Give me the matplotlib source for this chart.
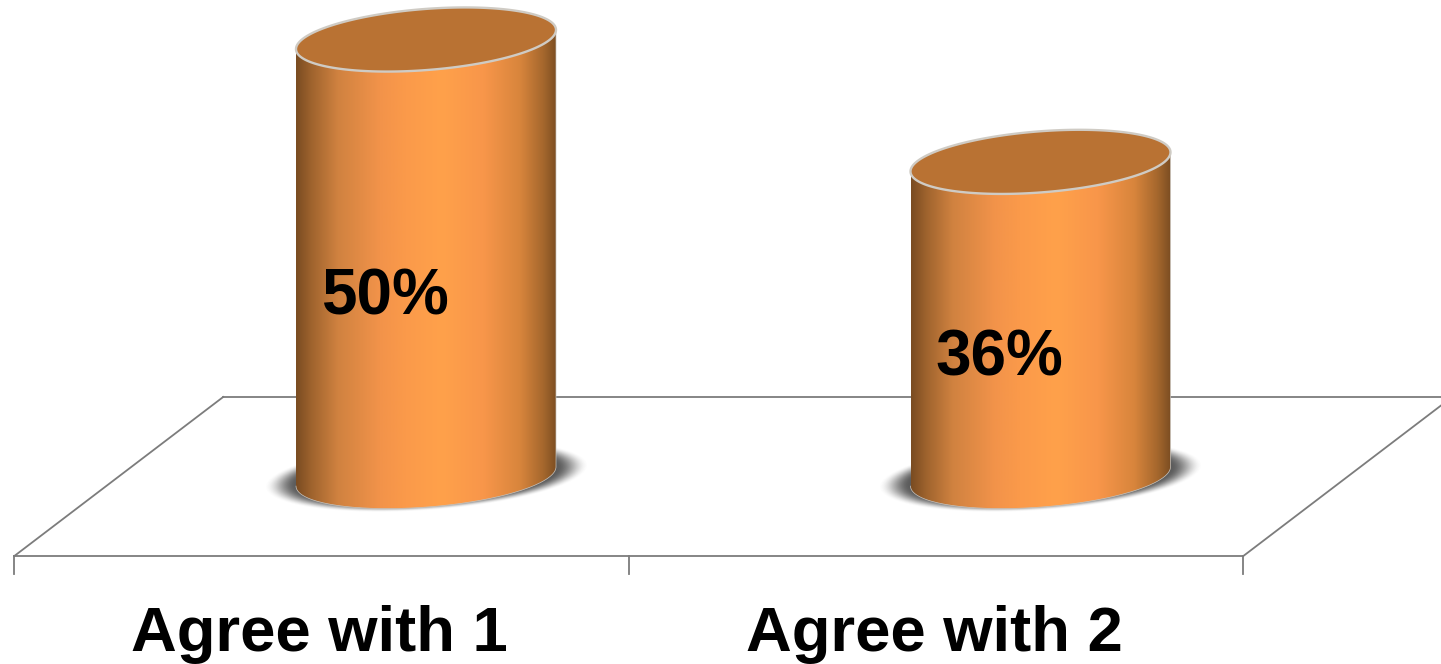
"""Two 3D-look orange cylinders on a floor plane."""

import numpy as np
import matplotlib

matplotlib.use("Agg")
import matplotlib.pyplot as plt
from matplotlib.colors import LinearSegmentedColormap
from matplotlib.patches import Polygon

categories = ["Agree with 1", "Agree with 2"]
values = [50, 36]
value_labels = ["50%", "36%"]

W, H = 1441, 664
PX_PER_CAT = 614.5
PX_PER_VAL = 8.74
X0_PX, Y0_PX = 426.0, 476.5

# cylinder ellipse, in data units
HALF_W = 130.0 / PX_PER_CAT
HALF_H = 30.6 / PX_PER_VAL
SHEAR = 9.6 / PX_PER_VAL
FLOOR_H = 9.1
DEPTH = 0.17

LINE = "#7c7c7c"
TOP = "#b97233"
RIM = "#cfcbc4"

side_cmap = LinearSegmentedColormap.from_list("side", [
    (0.00, "#7a4c22"),
    (0.06, "#a0642e"),
    (0.16, "#d08240"),
    (0.32, "#f2934a"),
    (0.42, "#fb9a4a"),
    (0.56, "#ffa14b"),
    (0.72, "#f8964a"),
    (0.86, "#d8853c"),
    (0.95, "#a5672d"),
    (1.00, "#7c4e22"),
])
shadow_cmap = LinearSegmentedColormap.from_list("shadow", [(0.3, 0.3, 0.3, 0.0), (0.3, 0.3, 0.3, 0.92)])


def ellipse(cx, cy, t):
    return cx + HALF_W * np.cos(t), cy + HALF_H * np.sin(t) + SHEAR * np.cos(t)


def draw_shadow(ax, cx):
    xs = np.linspace(cx - 0.3, cx + 0.3, 400)
    ys = np.linspace(-8, 8, 200)
    gx, gy = np.meshgrid(xs, ys)
    c = (gx - cx) / (HALF_W * 1.25)
    s = (gy / 1.13 - SHEAR * c) / HALF_H
    rho = np.sqrt(c**2 + s**2)
    alpha = np.clip((1.0 - rho) / 0.2, 0, 1)
    alpha = alpha * alpha * (3 - 2 * alpha)
    ax.imshow(alpha, extent=[xs[0], xs[-1], ys[0], ys[-1]], origin="lower", aspect="auto",
              cmap=shadow_cmap, vmin=0, vmax=1, zorder=2, interpolation="bilinear")


def draw_cylinder(ax, cx, value):
    t_low = np.linspace(np.pi, 2 * np.pi, 120)
    t_all = np.linspace(0, 2 * np.pi, 240)

    bx, by = ellipse(cx, 0, t_low)
    tx, ty = ellipse(cx, value, t_low)
    side = np.vstack([np.column_stack([bx, by]), np.column_stack([tx, ty])[::-1]])
    patch = Polygon(side, closed=True, facecolor="none", edgecolor="none", zorder=3)
    ax.add_patch(patch)

    grad = np.linspace(0, 1, 512)[None, :]
    im = ax.imshow(grad, extent=[cx - HALF_W, cx + HALF_W, -8, value + 8], origin="lower",
                   aspect="auto", cmap=side_cmap, zorder=3, interpolation="bilinear")
    im.set_clip_path(patch)

    ax.plot(side[:, 0], side[:, 1], color="#c9c5bf", lw=0.5, zorder=4)

    ex, ey = ellipse(cx, value, t_all)
    ax.fill(ex, ey, facecolor=TOP, edgecolor=RIM, lw=1.7, zorder=5)


fig = plt.figure(figsize=(W / 100, H / 100), dpi=100)
ax = fig.add_axes([0, 0, 1, 1])
plt.rcParams["font.family"] = ["Liberation Sans", "DejaVu Sans"]

positions = np.arange(len(categories))
left, right = positions[0] - 0.5, positions[-1] + 0.5

# floor plane and the category ticks under it
ax.plot([left - DEPTH, right - DEPTH], [-FLOOR_H, -FLOOR_H], color=LINE, lw=1.3, zorder=1)
ax.plot([left + DEPTH, right + DEPTH], [FLOOR_H, FLOOR_H], color=LINE, lw=1.3, zorder=1)
ax.plot([left - DEPTH, left + DEPTH], [-FLOOR_H, FLOOR_H], color=LINE, lw=1.3, zorder=1)
ax.plot([right - DEPTH, right + DEPTH], [-FLOOR_H, FLOOR_H], color=LINE, lw=1.3, zorder=1)
for edge in np.arange(len(categories) + 1) + left - DEPTH:
    ax.plot([edge, edge], [-FLOOR_H, -FLOOR_H - 2.05], color=LINE, lw=1.3, zorder=1)

for pos, cat, val, lab in zip(positions, categories, values, value_labels):
    draw_shadow(ax, pos)
    draw_cylinder(ax, pos, val)
    ax.text(pos - 0.0675, val / 2 - 6.5, lab, ha="center", va="baseline", fontsize=46,
            fontweight="bold", color="black", zorder=6)
    ax.text(pos - DEPTH - 0.003, -20.0, cat, ha="center", va="baseline", fontsize=45.6,
            fontweight="bold", color="black", zorder=6)

ax.set_xlim(-X0_PX / PX_PER_CAT, (W - X0_PX) / PX_PER_CAT)
ax.set_ylim((Y0_PX - H) / PX_PER_VAL, Y0_PX / PX_PER_VAL)
ax.axis("off")

fig.savefig("out.png", dpi=100)
